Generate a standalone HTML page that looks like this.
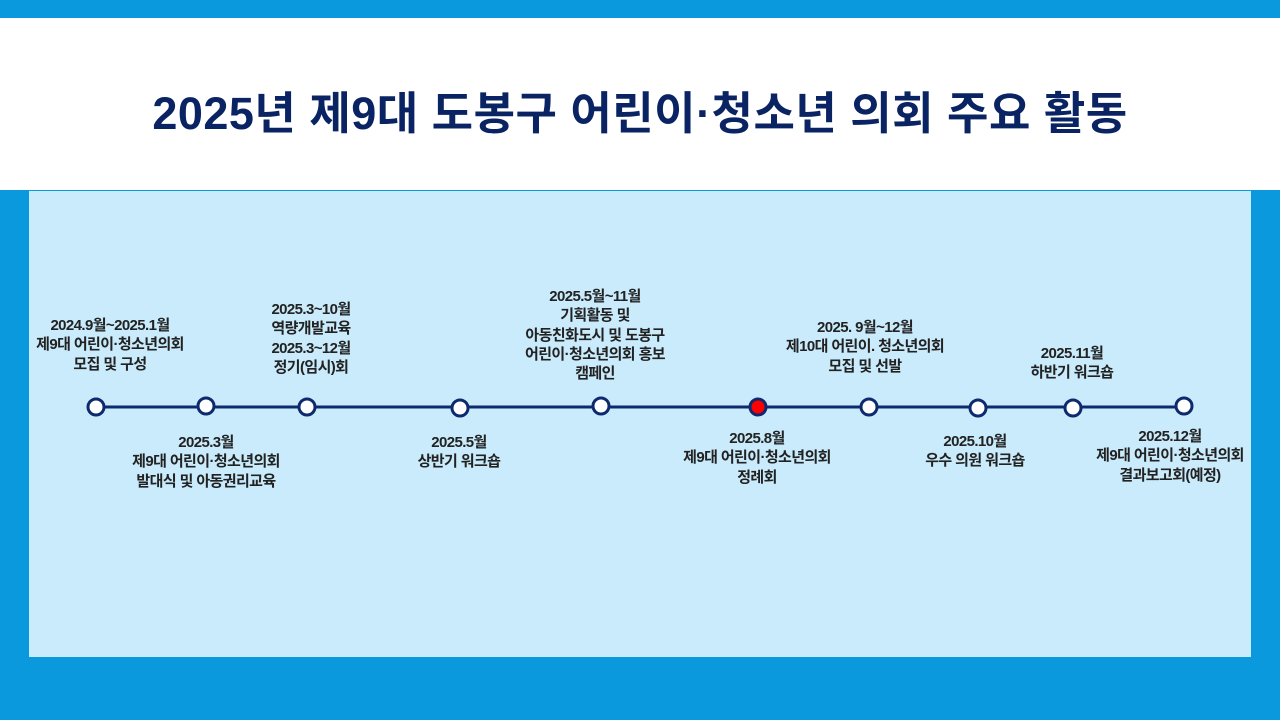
<!DOCTYPE html>
<html><head><meta charset="utf-8"><style>
*{margin:0;padding:0}
body{width:1280px;height:720px;background:#0b99de;position:relative;overflow:hidden;font-family:"Liberation Sans","Noto Sans CJK KR",sans-serif}
.white{position:absolute;left:0;top:18px;width:1280px;height:172px;background:#fff}
.title{position:absolute;left:0;top:84px;width:1280px;text-align:center;font-size:45px;font-weight:bold;color:#0a2463;line-height:60px;letter-spacing:0.5px}
.panel{position:absolute;left:29px;top:191px;width:1222px;height:466px;background:#c9ebfb}
.l{position:absolute;width:280px;margin-left:-140px;text-align:center;font-size:15px;font-weight:bold;color:#222;line-height:19.3px;letter-spacing:-0.6px}
</style></head><body>
<div class="white"></div>
<div class="title">2025년 제9대 도봉구 어린이·청소년 의회 주요 활동</div>
<div class="panel"></div>
<svg style="position:absolute;left:0;top:0" width="1280" height="720">
<line x1="96" y1="407" x2="1184" y2="407" stroke="#0d2a6e" stroke-width="3"/>
<g stroke="#0d2a6e" stroke-width="3" fill="#fff">
<circle cx="96" cy="407" r="8"/><circle cx="206" cy="406" r="8"/><circle cx="307" cy="407" r="8"/>
<circle cx="460" cy="408" r="8"/><circle cx="601" cy="406" r="8"/>
<circle cx="758" cy="407" r="8" fill="#f00"/>
<circle cx="869" cy="407" r="8"/><circle cx="978" cy="408" r="8"/><circle cx="1073" cy="408" r="8"/><circle cx="1184" cy="406" r="8"/>
</g></svg>
<div class="l" style="left:110px;top:316px">2024.9월~2025.1월<br>제9대 어린이·청소년의회<br>모집 및 구성</div>
<div class="l" style="left:311px;top:300px">2025.3~10월<br>역량개발교육<br>2025.3~12월<br>정기(임시)회</div>
<div class="l" style="left:595px;top:287px">2025.5월~11월<br>기획활동 및<br>아동친화도시 및 도봉구<br>어린이·청소년의회 홍보<br>캠페인</div>
<div class="l" style="left:865px;top:318px">2025. 9월~12월<br>제10대 어린이. 청소년의회<br>모집 및 선발</div>
<div class="l" style="left:1072px;top:344px">2025.11월<br>하반기 워크숍</div>
<div class="l" style="left:206px;top:433px">2025.3월<br>제9대 어린이·청소년의회<br>발대식 및 아동권리교육</div>
<div class="l" style="left:459px;top:433px">2025.5월<br>상반기 워크숍</div>
<div class="l" style="left:757px;top:429px">2025.8월<br>제9대 어린이·청소년의회<br>정례회</div>
<div class="l" style="left:975px;top:432px">2025.10월<br>우수 의원 워크숍</div>
<div class="l" style="left:1170px;top:427px">2025.12월<br>제9대 어린이·청소년의회<br>결과보고회(예정)</div>
</body></html>
